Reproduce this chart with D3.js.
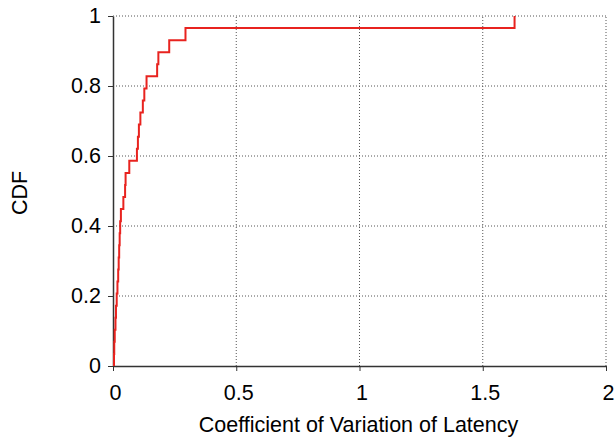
<!DOCTYPE html>
<html><head><meta charset="utf-8">
<script src="https://cdn.jsdelivr.net/npm/d3@7"></script>
<style>body{margin:0;background:#fff}svg{display:block}text{font-family:"Liberation Sans",Arial,sans-serif;fill:#000}</style>
</head><body><svg id="c" width="616" height="439"></svg>
<script>
// Sorted sample values (coefficient of variation), n = 29
const cvValues = [0.000, 0.001, 0.003, 0.006, 0.008, 0.011, 0.014, 0.017, 0.019, 0.021,
  0.023, 0.025, 0.028, 0.038, 0.045, 0.047, 0.062, 0.093, 0.097, 0.101,
  0.107, 0.117, 0.123, 0.132, 0.175, 0.180, 0.224, 0.290, 1.625];
const xTicks = [0, 0.5, 1, 1.5, 2];
const xTickLabels = ["0", "0.5", "1", "1.5", "2"];
const yTicks = [0, 0.2, 0.4, 0.6, 0.8, 1];
const yTickLabels = ["0", "0.2", "0.4", "0.6", "0.8", "1"];

const svg = d3.select("#c");
const L = 113, R = 606, T = 16, B = 366;
const FS = 21.5;
const x = d3.scaleLinear().domain([0, 2]).range([L, R]);
const y = d3.scaleLinear().domain([0, 1]).range([B, T]);

// grid
const g = svg.append("g");
g.selectAll(".gx").data(xTicks.slice(1)).join("line")
  .attr("x1", d => x(d)).attr("x2", d => x(d)).attr("y1", B).attr("y2", T)
  .attr("stroke", "#555").attr("stroke-width", 1).attr("stroke-dasharray", "1,2");
g.selectAll(".gy").data(yTicks.slice(1)).join("line")
  .attr("x1", L).attr("x2", R).attr("y1", d => y(d)).attr("y2", d => y(d))
  .attr("stroke", "#555").attr("stroke-width", 1).attr("stroke-dasharray", "1,2");

// axes
const xa = svg.append("g").attr("transform", `translate(0,${B})`)
  .call(d3.axisBottom(x).tickValues(xTicks).tickFormat((d, i) => xTickLabels[i]).tickSize(5).tickPadding(14).tickSizeOuter(0));
const ya = svg.append("g").attr("transform", `translate(${L},0)`)
  .call(d3.axisLeft(y).tickValues(yTicks).tickFormat((d, i) => yTickLabels[i]).tickSize(5).tickPadding(7).tickSizeOuter(0));
[xa, ya].forEach(a => {
  a.select(".domain").attr("stroke", "#333").attr("stroke-width", 1.5);
  a.selectAll(".tick line").attr("stroke", "#333").attr("stroke-width", 1);
  a.selectAll("text").attr("font-size", FS).attr("font-family", "Liberation Sans, Arial, sans-serif").attr("fill", "#000");
});
xa.selectAll("text").attr("dx", 2);

// ECDF
const n = cvValues.length;
const pts = [[cvValues[0], 0]].concat(cvValues.map((v, i) => [v, (i + 1) / n]));
svg.append("path").datum(pts)
  .attr("fill", "none").attr("stroke", "#e8231f").attr("stroke-width", 2)
  .attr("d", d3.line().x(d => x(d[0]) + 1).y(d => y(d[1])).curve(d3.curveStepAfter));

// labels
svg.append("text").attr("x", 358.5).attr("y", 432).attr("text-anchor", "middle")
  .attr("font-size", FS).text("Coefficient of Variation of Latency");
svg.append("text").attr("transform", `translate(27,193) rotate(-90)`)
  .attr("text-anchor", "middle").attr("font-size", FS).text("CDF");
</script></body></html>
